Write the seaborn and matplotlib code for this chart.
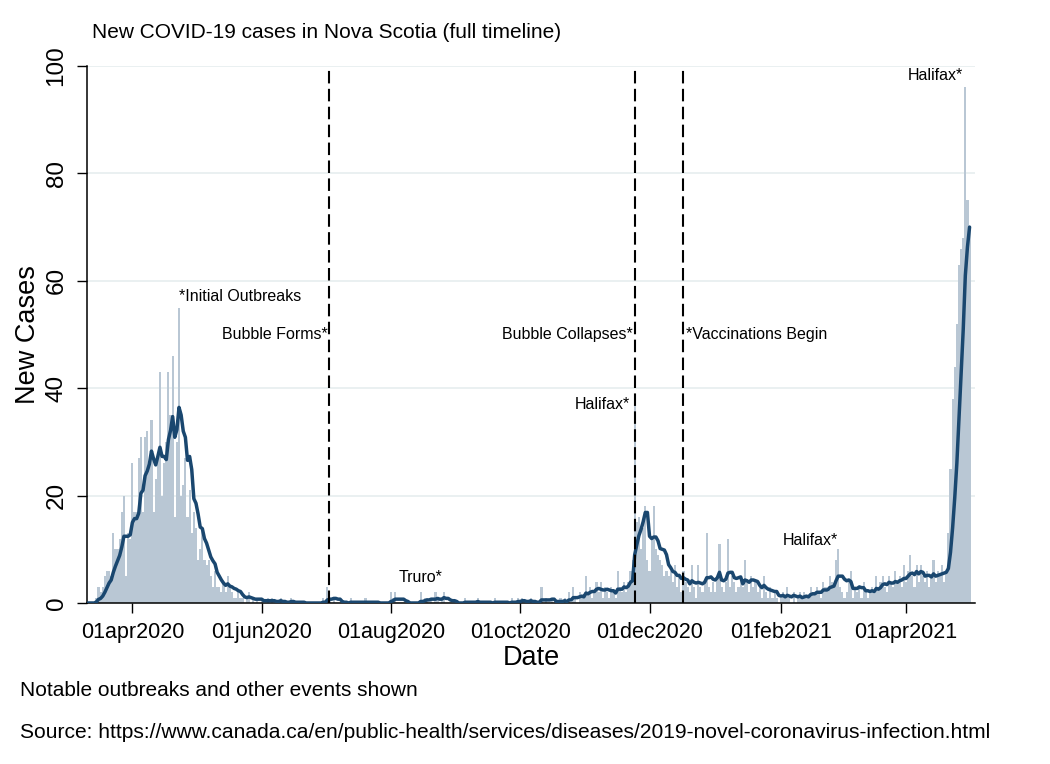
import numpy as np
import pandas as pd
import matplotlib
matplotlib.use('Agg')
import matplotlib.pyplot as plt
import seaborn as sns

# daily new cases in Nova Scotia, one list per month
mar_2020 = [0, 0, 0, 0, 1, 3, 2, 3, 5, 6, 6, 5, 13, 10, 10, 12, 17, 20, 5, 13, 12]  # from 11 Mar
apr_2020 = [26, 17, 17, 27, 31, 17, 31, 32, 26, 34, 17, 23, 28, 43, 20, 26, 30, 43, 35, 46,
            16, 30, 55, 20, 22, 27, 16, 21, 13, 17]
may_2020 = [14, 8, 10, 14, 8, 7, 8, 5, 3, 6, 3, 3, 2, 4, 2, 5, 3, 2, 1, 1,
            2, 1, 1, 0, 1, 2, 0, 1, 0, 1, 0]
jun_2020 = [1, 0, 0, 1, 0, 1, 0, 0, 0, 1, 0, 0, 0, 0, 1, 0, 0, 0, 0, 0,
            0, 0, 0, 0, 0, 0, 0, 0, 0, 1]
jul_2020 = [0, 3, 1, 0, 1, 0, 0, 0, 0, 0, 0, 0, 1, 0, 0, 0, 0, 0, 0, 1,
            0, 0, 0, 0, 0, 0, 0, 0, 0, 0, 0]
aug_2020 = [2, 1, 2, 0, 0, 0, 0, 0, 0, 0, 0, 0, 0, 0, 2, 0, 1, 1, 0, 1,
            0, 2, 1, 0, 1, 2, 0, 0, 0, 0, 0]
sep_2020 = [0, 0, 0, 0, 1, 0, 0, 0, 0, 0, 1, 0, 0, 0, 0, 0, 0, 0, 1, 0,
            0, 0, 0, 0, 0, 0, 1, 0, 0, 1]
oct_2020 = [0, 1, 0, 0, 0, 1, 0, 0, 0, 0, 3, 0, 1, 0, 0, 1, 0, 0, 0, 1,
            0, 1, 0, 2, 0, 3, 1, 0, 2, 1, 1]
nov_2020 = [5, 2, 3, 1, 2, 4, 2, 4, 1, 3, 2, 1, 3, 2, 1, 6, 3, 2, 4, 2,
            4, 6, 8, 37, 15, 16, 10, 14, 18, 8]
dec_2020 = [6, 12, 18, 10, 9, 8, 7, 5, 6, 5, 6, 4, 7, 3, 5, 2, 6, 4, 3, 2,
            7, 3, 1, 7, 3, 2, 4, 13, 3, 2, 4]
jan_2021 = [2, 5, 11, 3, 2, 4, 12, 3, 5, 4, 2, 3, 5, 3, 8, 4, 2, 5, 3, 4,
            2, 3, 1, 5, 2, 1, 3, 1, 2, 1, 0]
feb_2021 = [1, 2, 1, 3, 1, 0, 2, 0, 1, 2, 1, 2, 1, 1, 3, 2, 2, 3, 2, 1,
            4, 3, 2, 5, 4, 3, 8, 10]
mar_2021 = [3, 2, 1, 2, 4, 6, 1, 3, 2, 3, 1, 4, 2, 1, 2, 3, 2, 5, 3, 4,
            5, 3, 2, 5, 4, 3, 6, 4, 5, 3, 7]
apr_2021 = [4, 6, 9, 5, 3, 7, 4, 7, 5, 4, 6, 3, 5, 8, 4, 6, 5, 7, 4, 6,
            13, 25, 38, 44, 52, 63, 66, 68, 96, 75]
may_2021 = [70]

# vertical event lines and their labels
event_dates = ['2020-07-03', '2020-11-24', '2020-12-17']
event_labels = ['Bubble Forms*', 'Bubble Collapses*', '*Vaccinations Begin']

# outbreak notes: (date, y, text, alignment)
notes = [
    ('2020-04-23', 57, '*Initial Outbreaks', 'left'),
    ('2020-11-21 18:00', 37, 'Halifax*', 'right'),
    ('2020-08-15', 4.8, 'Truro*', 'center'),
    ('2021-02-27 20:00', 11.7, 'Halifax*', 'right'),
    ('2021-04-27 22:00', 98.3, 'Halifax*', 'right'),
]

tick_dates = ['2020-04-01', '2020-06-01', '2020-08-01', '2020-10-01',
              '2020-12-01', '2021-02-01', '2021-04-01']

cases = (mar_2020 + apr_2020 + may_2020 + jun_2020 + jul_2020 + aug_2020 + sep_2020
         + oct_2020 + nov_2020 + dec_2020 + jan_2021 + feb_2021 + mar_2021 + apr_2021 + may_2021)
df = pd.DataFrame({'date': pd.date_range('2020-03-11', periods=len(cases), freq='D'),
                   'cases': cases})
# 7 day trailing average, as in the original
df['avg'] = df['cases'].rolling(7, min_periods=1).mean()

sns.set_style('white')
plt.rcParams['font.family'] = ['Liberation Sans', 'DejaVu Sans']
plt.rcParams['text.color'] = 'black'
plt.rcParams['axes.labelcolor'] = 'black'
plt.rcParams['xtick.color'] = 'black'
plt.rcParams['ytick.color'] = 'black'

navy = '#1a476f'
bar_col = '#b9c7d4'

fig = plt.figure(figsize=(10.5, 7.64), dpi=100)
ax = fig.add_axes([87 / 1050, 161 / 764, 888 / 1050, 537 / 764])

ax.bar(df['date'], df['cases'], width=1.0, color=bar_col, linewidth=0, zorder=2)
sns.lineplot(data=df, x='date', y='avg', color=navy, linewidth=2.5, ax=ax, zorder=3)

for d in event_dates:
    ax.axvline(pd.Timestamp(d), color='black', lw=1.5, ls=(0, (6, 2.6)), zorder=4)

ax.text(pd.Timestamp(event_dates[0]) - pd.Timedelta(days=1), 50, event_labels[0],
        ha='right', va='center', fontsize=11.5)
ax.text(pd.Timestamp(event_dates[1]) - pd.Timedelta(days=1), 50, event_labels[1],
        ha='right', va='center', fontsize=11.5)
ax.text(pd.Timestamp(event_dates[2]) + pd.Timedelta(days=1), 50, event_labels[2],
        ha='left', va='center', fontsize=11.5)
for d, yv, txt, ha in notes:
    ax.text(pd.Timestamp(d), yv, txt, ha=ha, va='center', fontsize=11.5)

ax.set_xlim(pd.Timestamp('2020-03-10 14:00'), pd.Timestamp('2021-05-03 13:30'))
ax.set_ylim(0, 100)
ax.set_xticks([pd.Timestamp(t) for t in tick_dates])
ax.set_xticklabels([pd.Timestamp(t).strftime('%d%b%Y').lower() for t in tick_dates])
ax.set_yticks([0, 20, 40, 60, 80, 100])

ax.grid(axis='y', color='#e6eeef', lw=1.2, zorder=0)
ax.grid(axis='x', visible=False)
sns.despine(ax=ax)
for s in ['left', 'bottom']:
    ax.spines[s].set_color('black')
    ax.spines[s].set_linewidth(1.1)

ax.tick_params(axis='x', length=7, width=1, color='black', labelsize=15.5, pad=7, direction='out', bottom=True)
ax.tick_params(axis='y', length=7, width=1, color='black', labelsize=17.5, pad=7,
               direction='out', left=True, labelrotation=90)
for t in ax.get_yticklabels():
    t.set_va('center')

ax.set_xlabel('Date', fontsize=19.5, labelpad=1)
ax.set_ylabel('New Cases', fontsize=19.5, labelpad=3)

fig.text(92 / 1050, 1 - 32 / 764, 'New COVID-19 cases in Nova Scotia (full timeline)',
         fontsize=15, ha='left', va='center')
fig.text(20 / 1050, 1 - 690 / 764, 'Notable outbreaks and other events shown',
         fontsize=15, ha='left', va='center')
fig.text(20 / 1050, 1 - 733 / 764,
         'Source: https://www.canada.ca/en/public-health/services/diseases/2019-novel-coronavirus-infection.html',
         fontsize=15.1, ha='left', va='center')

fig.savefig('out.png', dpi=100, facecolor='white')
